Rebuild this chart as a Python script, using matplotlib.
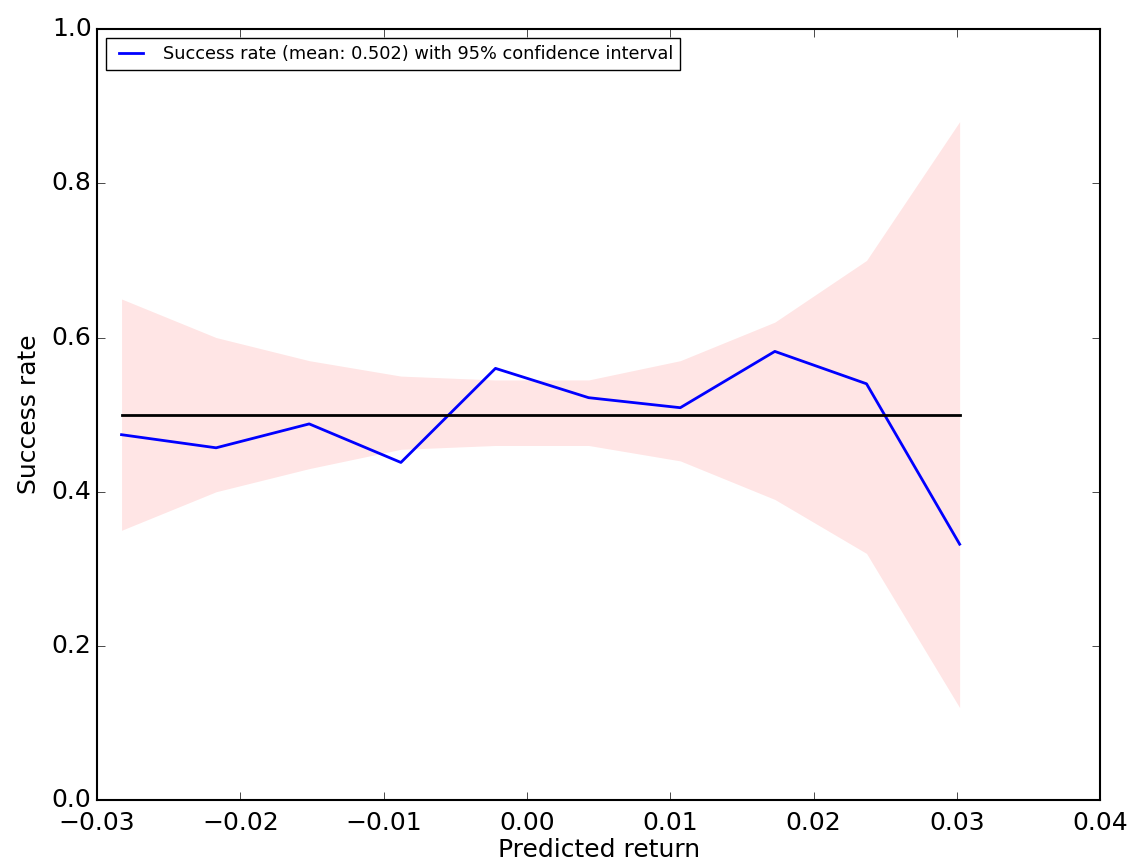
import matplotlib
matplotlib.use("Agg")
import matplotlib.pyplot as plt
import numpy as np

# values
pred_return = np.array([-0.0283, -0.0217, -0.0152, -0.0088, -0.0022,
                        0.0043, 0.0107, 0.0173, 0.0237, 0.0302])
success = np.array([0.474, 0.457, 0.488, 0.438, 0.560,
                    0.522, 0.509, 0.582, 0.540, 0.332])
ci_upper = np.array([0.65, 0.60, 0.57, 0.55, 0.545, 0.545, 0.57, 0.62, 0.70, 0.88])
ci_lower = np.array([0.35, 0.40, 0.43, 0.455, 0.46, 0.46, 0.44, 0.39, 0.32, 0.12])
baseline = 0.5
mean_rate = 0.502

plt.style.use("classic")
fig = plt.figure(figsize=(11.3, 8.67), dpi=100)
ax = fig.add_axes([0.086, 0.077, 0.8875, 0.8895])

ax.fill_between(pred_return, ci_lower, ci_upper, color="red", alpha=0.1, linewidth=0)
ax.plot(pred_return, success, color="b", lw=2,
        label="Success rate (mean: %.3f) with 95%% confidence interval" % mean_rate)
ax.plot([pred_return[0], pred_return[-1]], [baseline, baseline], color="k", lw=2)

ax.set_xlim(-0.03, 0.04)
ax.set_ylim(0.0, 1.0)
ax.set_xticks(np.arange(-0.03, 0.0401, 0.01))
ax.set_yticks(np.arange(0.0, 1.01, 0.2))
ax.tick_params(labelsize=18, length=6)
ax.tick_params(axis="x", pad=8)
ax.set_xlabel("Predicted return", fontsize=18, labelpad=2)
ax.set_ylabel("Success rate", fontsize=18, labelpad=8)
for s in ax.spines.values():
    s.set_linewidth(1.5)

ax.legend(loc="upper left", fontsize=12.8, handlelength=2)

fig.savefig("out.png", dpi=100)
